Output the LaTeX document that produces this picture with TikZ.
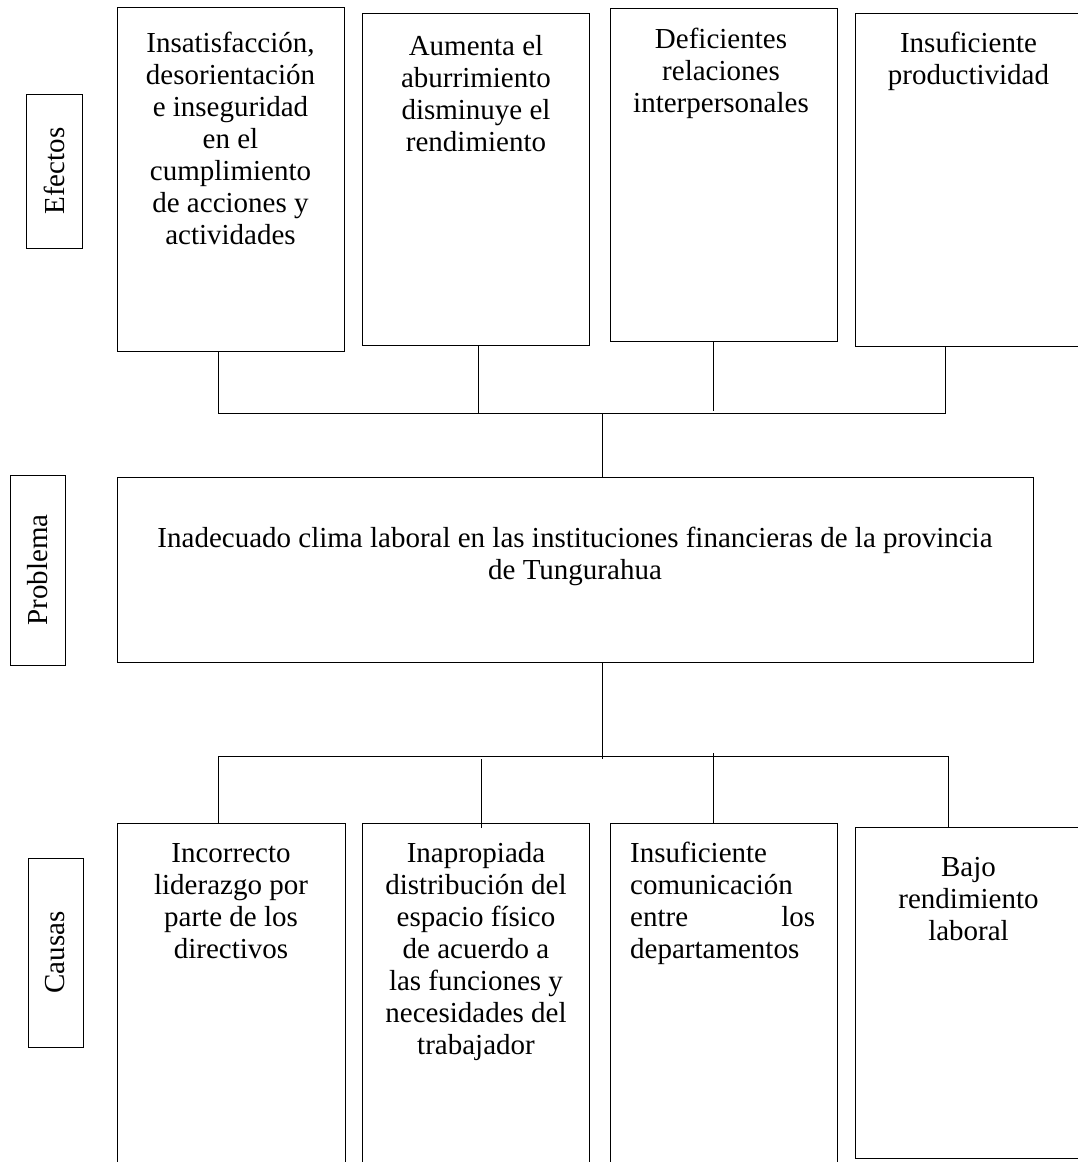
\documentclass[tikz,border=0pt]{standalone}
\usepackage{fontspec}
\setmainfont{Liberation Serif}
\usetikzlibrary{calc}
\begin{document}
\begin{tikzpicture}[x=1pt,y=-1pt,
  box/.style={draw, line width=0.9pt, inner sep=0pt, rectangle},
  lbl/.style={box, rotate=90, font=\fontsize{29}{32}\selectfont},
  txt/.style={font=\fontsize{29}{32}\selectfont, align=center, inner sep=0pt, anchor=north},
  conn/.style={line width=0.9pt}]
\useasboundingbox (0,0) rectangle (1078,1162);
\clip (0,0) rectangle (1078,1162);

% side labels
\node[lbl, minimum width=154pt, minimum height=56pt] (le) at (54,171) {Efectos};
\node[lbl, minimum width=190pt, minimum height=55pt] (lp) at (37.5,570) {Problema};
\node[lbl, minimum width=189pt, minimum height=55pt] (lc) at (55.5,952.5) {Causas};

% effect boxes
\node[box, minimum width=227pt, minimum height=344pt] (e1) at (230.5,179) {};
\node[box, minimum width=227pt, minimum height=332pt] (e2) at (475.5,179) {};
\node[box, minimum width=227pt, minimum height=333pt] (e3) at (723.5,174.5) {};
\node[box, minimum width=227pt, minimum height=333pt] (e4) at (968.5,179.5) {};

% problem box
\node[box, minimum width=916pt, minimum height=185pt] (p) at (575,569.5) {};

% cause boxes
\node[box, minimum width=228pt, minimum height=377pt] (c1) at (231,1011.5) {};
\node[box, minimum width=227pt, minimum height=377pt] (c2) at (475.5,1011.5) {};
\node[box, minimum width=227pt, minimum height=377pt] (c3) at (723.5,1011.5) {};
\node[box, minimum width=227pt, minimum height=331pt] (c4) at (968.5,992.5) {};

% texts
\node[txt] (te1) at (230.5,30) {\strut Insatisfacción,\\desorientación\\e inseguridad\\en el\\cumplimiento\\de acciones y\\actividades};
\node[txt] (te2) at (476,32.6) {\strut Aumenta el\\aburrimiento\\disminuye el\\rendimiento};
\node[txt] (te3) at (721,25.6) {\strut Deficientes\\relaciones\\interpersonales};
\node[txt] (te4) at (968.5,29.6) {\strut Insuficiente\\productividad};
\node[txt] (tp) at (575,524.6) {\strut Inadecuado clima laboral en las instituciones financieras de la provincia\\de Tungurahua};
\node[txt] (tc1) at (231,839.6) {\strut Incorrecto\\liderazgo por\\parte de los\\directivos};
\node[txt] (tc2) at (476,839.6) {\strut Inapropiada\\distribución del\\espacio físico\\de acuerdo a\\las funciones y\\necesidades del\\trabajador};
\node[txt, anchor=north west, align=left, text width=185pt] (tc3) at (630,839.6) {\strut Insuficiente\\comunicación\\entre\hfill los\\departamentos};
\node[txt] (tc4) at (968.5,853.6) {\strut Bajo\\rendimiento\\laboral};

% top connectors
\coordinate (t1) at (218,413);
\coordinate (t2) at (478,413);
\coordinate (t3) at (713,411);
\coordinate (t4) at (945,413);
\coordinate (tm) at (602,413);
\draw[conn] (e1.south -| t1) -- (t1) -- (t4) -- (e4.south -| t4);
\draw[conn] (e2.south -| t2) -- (t2);
\draw[conn] (e3.south -| t3) -- (t3);
\draw[conn] (tm) -- (tm |- p.north);

% bottom connectors
\coordinate (b0) at (602,759);
\coordinate (b1) at (218,756);
\coordinate (b2) at (481,759);
\coordinate (b3) at (713,753);
\coordinate (b4) at (948,756);
\draw[conn] (p.south -| b0) -- (b0);
\draw[conn] (c1.north -| b1) -- (b1) -- (b4) -- (c4.north -| b4);
\draw[conn] (b2) -- ($(c2.north -| b2)+(0,5)$);
\draw[conn] (b3) -- (c3.north -| b3);
\end{tikzpicture}
\end{document}
